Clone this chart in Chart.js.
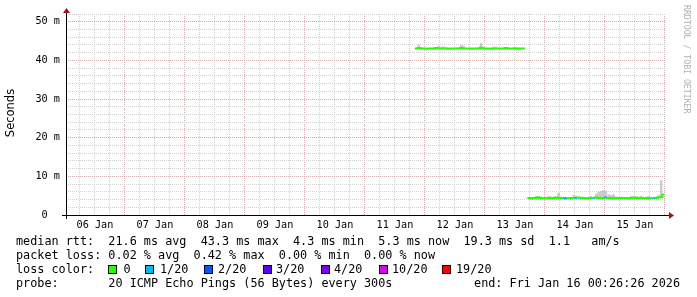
<!DOCTYPE html>
<html>
<head>
<meta charset="utf-8">
<script src="https://cdn.jsdelivr.net/npm/chart.js@4"></script>
<style>
  html, body { margin: 0; padding: 0; background: #fff; }
  canvas { display: block; }
</style>
</head>
<body>
<canvas id="smoke" width="697" height="297"></canvas>
<script>
// hours since 06 Jan 00:00, one sample per hour (null = gap)
const hours = [
  140, 141, 142, 143, 144, 145, 146, 147, 148, 149,
  150, 151, 152, 153, 154, 155, 156, 157, 158, 159,
  160, 161, 162, 163, 164, 165, 166, 167, 168, 169,
  170, 171, 172, 173, 174, 175, 176, 177, 178, 179,
  180, 181, 182, 183, 184,
  184.5,
  185, 186, 187, 188, 189, 190, 191, 192, 193, 194,
  195, 196, 197, 198, 199, 200, 201, 202, 203, 204,
  205, 206, 207, 208, 209, 210, 211, 212, 213, 214,
  215, 216, 217, 218, 219, 220, 221, 222, 223, 224,
  225, 226, 227, 228, 229, 230, 231, 232, 233, 234,
  235, 236, 237, 238, 239, 239.6
];

// median rtt in ms
const medianRtt = [
  43.1, 43.1, 43.2, 43.1, 43.1, 43.0, 43.1, 43.1, 43.1, 43.2,
  43.1, 43.1, 43.1, 43.1, 43.0, 43.1, 43.1, 43.1, 43.1, 43.2,
  43.1, 43.1, 43.1, 43.0, 43.1, 43.1, 43.1, 43.3, 43.1, 43.1,
  43.1, 43.0, 43.1, 43.1, 43.1, 43.1, 43.1, 43.2, 43.1, 43.1,
  43.1, 43.1, 43.0, 43.1, 43.1,
  null,
  4.4, 4.4, 4.3, 4.4, 4.4, 4.5, 4.4, 4.4, 4.3, 4.4,
  4.4, 4.4, 4.5, 4.4, 4.4, 4.4, 4.3, 4.4, 4.4, 4.4,
  4.4, 4.5, 4.4, 4.4, 4.3, 4.4, 4.4, 4.4, 4.5, 4.4,
  4.4, 4.4, 4.5, 4.4, 4.4, 4.3, 4.4, 4.4, 4.4, 4.4,
  4.4, 4.3, 4.4, 4.4, 4.5, 4.4, 4.4, 4.4, 4.4, 4.3,
  4.4, 4.4, 4.4, 4.5, 4.6, 5.3
];

// top of the smoke (slowest pings) in ms
const smokeTop = [
  43.1, 43.1, 44.0, 43.4, 43.1, 43.0, 43.1, 43.1, 43.1, 43.2,
  43.7, 43.5, 43.6, 43.4, 43.0, 43.1, 43.1, 43.1, 43.1, 44.0,
  43.8, 43.1, 43.1, 43.0, 43.1, 43.1, 43.1, 44.5, 43.4, 43.1,
  43.1, 43.0, 43.6, 43.5, 43.1, 43.1, 43.1, 43.2, 43.1, 43.1,
  43.4, 43.4, 43.0, 43.1, 43.1,
  null,
  4.4, 4.4, 4.6, 4.4, 5.0, 4.9, 4.4, 4.6, 4.4, 5.0,
  4.8, 4.4, 4.7, 5.7, 4.8, 4.4, 4.4, 4.6, 4.4, 5.2,
  5.0, 4.5, 4.4, 4.7, 4.4, 4.6, 4.9, 4.4, 5.5, 6.0,
  6.2, 6.5, 6.3, 5.4, 5.2, 5.4, 4.8, 4.4, 4.7, 4.4,
  4.6, 4.4, 4.9, 5.0, 4.7, 4.4, 5.0, 4.6, 4.4, 5.0,
  4.6, 4.4, 4.8, 5.2, 9.0, 5.3
];

// lost pings out of 20
const lossCount = [
  0, 0, 0, 0, 0, 0, 0, 0, 0, 0,
  0, 0, 0, 0, 0, 0, 0, 0, 0, 0,
  0, 0, 0, 0, 0, 0, 0, 0, 0, 0,
  0, 0, 0, 0, 0, 0, 0, 0, 0, 0,
  0, 0, 0, 0, 0,
  0,
  0, 0, 0, 0, 0, 0, 0, 0, 0, 0,
  0, 0, 0, 0, 1, 1, 0, 0, 0, 1,
  0, 0, 0, 0, 0, 0, 1, 0, 0, 0,
  0, 1, 0, 0, 0, 0, 0, 0, 0, 0,
  0, 0, 0, 0, 0, 0, 0, 0, 0, 0,
  1, 0, 0, 0, 0, 0
];

const dayLabels = ["06 Jan", "07 Jan", "08 Jan", "09 Jan", "10 Jan",
                   "11 Jan", "12 Jan", "13 Jan", "14 Jan", "15 Jan"];

const lossSteps = [0, 1, 2, 3, 4, 10, 19];
const lossNames = ["0", "1/20", "2/20", "3/20", "4/20", "10/20", "19/20"];
const lossColors = ["#26ff00", "#00b8ff", "#0059ff", "#5e00ff", "#7e00ff", "#dd00ff", "#ff0000"];

const legendLines = [
  "median rtt:  21.6 ms avg  43.3 ms max  4.3 ms min  5.3 ms now  19.3 ms sd  1.1   am/s",
  "packet loss: 0.02 % avg  0.42 % max  0.00 % min  0.00 % now",
  "loss color:",
  "probe:       20 ICMP Echo Pings (56 Bytes) every 300s"
];
const endStamp = "end: Fri Jan 16 00:26:26 2026";

function colorForLoss(n) {
  let c = lossColors[0];
  lossSteps.forEach((s, i) => { if (n >= s) c = lossColors[i]; });
  return c;
}

const MONO = '"DejaVu Sans Mono", monospace';
const minorGrid = "#d2d2d2";
const majorGrid = "#f0a4a4";

const rrdDecor = {
  id: "rrdDecor",
  afterDraw(chart) {
    const ctx = chart.ctx;
    const a = chart.chartArea;
    ctx.save();

    // axes
    ctx.strokeStyle = "#000";
    ctx.lineWidth = 1;
    ctx.beginPath();
    ctx.moveTo(62, a.bottom + 0.5);
    ctx.lineTo(a.right + 3, a.bottom + 0.5);
    ctx.moveTo(a.left + 0.5, a.bottom + 4);
    ctx.lineTo(a.left + 0.5, a.top - 2);
    ctx.stroke();

    // arrows
    ctx.fillStyle = "#a01515";
    ctx.beginPath();
    ctx.moveTo(a.right + 3, a.bottom - 3);
    ctx.lineTo(a.right + 8, a.bottom + 0.5);
    ctx.lineTo(a.right + 3, a.bottom + 4);
    ctx.closePath();
    ctx.fill();
    ctx.beginPath();
    ctx.moveTo(a.left - 3, a.top - 1);
    ctx.lineTo(a.left + 0.5, a.top - 6);
    ctx.lineTo(a.left + 4, a.top - 1);
    ctx.closePath();
    ctx.fill();

    // unit label
    ctx.fillStyle = "#000";
    ctx.font = '11.5px "DejaVu Sans", sans-serif';
    ctx.textAlign = "center";
    ctx.textBaseline = "middle";
    ctx.save();
    ctx.translate(11, 113);
    ctx.rotate(-Math.PI / 2);
    ctx.fillText("Seconds", 0, 0);
    ctx.restore();

    // watermark
    ctx.save();
    ctx.fillStyle = "rgba(110,110,110,0.55)";
    ctx.font = "8.2px " + MONO;
    ctx.textAlign = "left";
    ctx.textBaseline = "alphabetic";
    ctx.translate(684, 5);
    ctx.rotate(Math.PI / 2);
    ctx.fillText("RRDTOOL / TOBI OETIKER", 0, 0);
    ctx.restore();

    // legend block
    ctx.font = "11.8px " + MONO;
    ctx.textAlign = "left";
    ctx.fillStyle = "#000";
    const rows = [241.5, 255.5, 269.5, 283.5];
    legendLines.forEach((t, i) => ctx.fillText(t, 16, rows[i]));

    const boxX = [108, 145, 204, 263, 321, 379, 442];
    const nameX = [123.5, 160, 218, 276, 334, 392, 456];
    lossNames.forEach((n, i) => {
      ctx.fillStyle = lossColors[i];
      ctx.fillRect(boxX[i], 265, 9, 9);
      ctx.strokeStyle = "#000";
      ctx.strokeRect(boxX[i] + 0.5, 265.5, 8, 8);
      ctx.fillStyle = "#000";
      ctx.fillText(n, nameX[i], rows[2]);
    });

    ctx.textAlign = "right";
    ctx.fillText(endStamp, 680, rows[3]);

    ctx.restore();
  }
};

new Chart(document.getElementById("smoke"), {
  type: "line",
  data: {
    labels: hours,
    datasets: [
      {
        label: "smoke",
        data: smokeTop,
        stepped: "after",
        borderWidth: 0,
        borderColor: "rgba(0,0,0,0)",
        backgroundColor: "rgba(190,190,190,0.8)",
        pointRadius: 0,
        fill: "+1",
        order: 2
      },
      {
        label: "median rtt",
        data: medianRtt,
        stepped: "after",
        borderWidth: 2,
        borderColor: lossColors[0],
        pointRadius: 0,
        fill: false,
        order: 1,
        segment: {
          borderColor: c => colorForLoss(lossCount[c.p0DataIndex])
        }
      }
    ]
  },
  options: {
    responsive: false,
    animation: false,
    layout: { padding: { top: 14, right: 31, left: 0, bottom: 0 } },
    plugins: {
      legend: { display: false },
      tooltip: { enabled: false }
    },
    scales: {
      x: {
        type: "linear",
        min: 0.43,
        max: 240.43,
        afterBuildTicks: s => {
          const t = [];
          for (let h = 6; h <= 240; h += 6) t.push({ value: h });
          s.ticks = t;
        },
        afterFit: s => { s.height = 82; },
        ticks: {
          autoSkip: false,
          maxRotation: 0,
          padding: 4,
          color: "#000",
          font: { family: MONO, size: 10.2 },
          callback: v => (v % 24 === 12 ? dayLabels[(v - 12) / 24] : "")
        },
        grid: {
          drawTicks: false,
          lineWidth: 1,
          color: c => (c.tick && c.tick.value % 24 === 0 ? majorGrid : minorGrid)
        },
        border: { display: false, dash: [1, 1] }
      },
      y: {
        min: 0,
        max: 52,
        afterBuildTicks: s => {
          const t = [];
          for (let v = 0; v <= 52; v += 2) t.push({ value: v });
          s.ticks = t;
        },
        afterFit: s => { s.width = 66; },
        ticks: {
          autoSkip: false,
          padding: 6,
          color: "#000",
          font: { family: MONO, size: 10.2 },
          callback: v => (v % 10 === 0 ? (v === 0 ? "0  " : v + " m") : "")
        },
        grid: {
          drawTicks: false,
          lineWidth: 1,
          color: c => (c.tick && c.tick.value % 10 === 0 ? majorGrid : minorGrid)
        },
        border: { display: false, dash: [1, 1] }
      }
    }
  },
  plugins: [rrdDecor]
});
</script>
</body>
</html>
